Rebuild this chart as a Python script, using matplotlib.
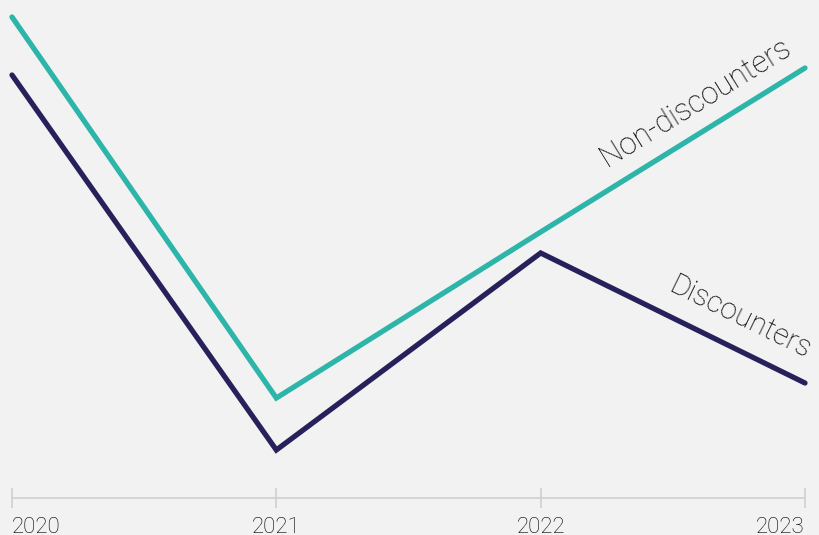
import matplotlib.pyplot as plt

years = [2020, 2021, 2022, 2023]
non_discounters = [518, 137, 303, 467]
discounters = [460, 85, 282, 152]
tick_labels = ["2020", "2021", "2022", "2023"]

plt.rcParams['font.family'] = ['Roboto', 'DejaVu Sans']

fig = plt.figure(figsize=(8.19, 5.35), dpi=100)
fig.patch.set_facecolor('#f2f2f2')
ax = fig.add_axes([0, 0, 1, 1])
ax.set_facecolor('#f2f2f2')

ax.plot(years, non_discounters, color='#2db5aa', linewidth=3.8, solid_capstyle='round', solid_joinstyle='miter')
ax.plot(years, discounters, color='#27215b', linewidth=3.8, solid_capstyle='round', solid_joinstyle='miter')

ax.set_xlim(2020 - 12 / 264.33, 2023 + 14 / 264.33)
ax.set_ylim(0, 535)

for s in ['top', 'left', 'right']:
    ax.spines[s].set_visible(False)
ax.spines['bottom'].set_position(('data', 37))
ax.spines['bottom'].set_bounds(2020, 2023)
ax.spines['bottom'].set_color('#d0d0d0')
ax.spines['bottom'].set_linewidth(1.2)
ax.set_yticks([])
ax.set_xticks(years)
ax.set_xticklabels(tick_labels, fontsize=16, fontweight='light', color='#000000')
ax.tick_params(axis='x', direction='inout', length=14, width=1.2, color='#d0d0d0', pad=7)
labels = ax.get_xticklabels()
labels[0].set_ha('left')
labels[-1].set_ha('right')

ax.text(2022.585, 433, "Non-discounters", rotation=31.7, fontsize=22, fontweight='light',
        ha='center', va='center', rotation_mode='anchor', color='#000000')
ax.text(2022.755, 217, "Discounters", rotation=-26.1, fontsize=21.5, fontweight='light',
        ha='center', va='center', rotation_mode='anchor', color='#000000')

fig.savefig('out.png', dpi=100, facecolor=fig.get_facecolor())
